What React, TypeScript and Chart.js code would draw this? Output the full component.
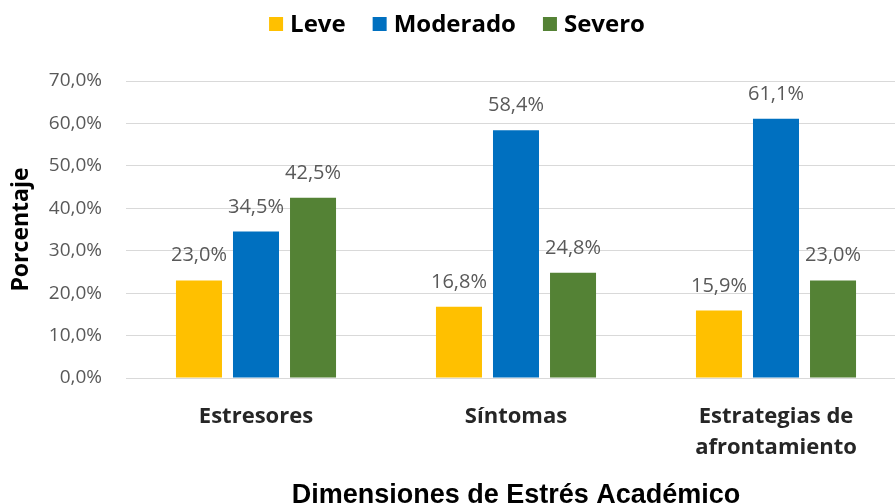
import React, { useEffect, useRef } from "react";
import { Chart, registerables } from "chart.js";

Chart.register(...registerables);

const categories: (string | string[])[] = ["Estresores", "Síntomas", ["Estrategias de", "afrontamiento"]];
const seriesNames = ["Leve", "Moderado", "Severo"];
const seriesColors = ["#FFC000", "#0070C0", "#548235"];
const leve = [23.0, 16.8, 15.9];
const moderado = [34.5, 58.4, 61.1];
const severo = [42.5, 24.8, 23.0];
const yTicks = [0, 10, 20, 30, 40, 50, 60, 70];

const fmt = (v: number) => v.toFixed(1).replace(".", ",") + "%";

const dataLabels = {
  id: "dataLabels",
  afterDatasetsDraw(chart: any) {
    const ctx = chart.ctx;
    ctx.save();
    ctx.font = "20px 'Open Sans'";
    ctx.fillStyle = "#595959";
    ctx.textAlign = "center";
    ctx.textBaseline = "alphabetic";
    chart.data.datasets.forEach((ds: any, i: number) => {
      const meta = chart.getDatasetMeta(i);
      meta.data.forEach((el: any, j: number) => {
        ctx.fillText(fmt(ds.data[j]), el.x, el.y - 19);
      });
    });
    ctx.restore();
  },
};

const topLegend = {
  id: "topLegend",
  afterDraw(chart: any) {
    const ctx = chart.ctx;
    ctx.save();
    ctx.font = "bold 24px 'Open Sans'";
    ctx.textBaseline = "alphabetic";
    ctx.textAlign = "left";
    const box = 14;
    const gapBoxText = 7;
    const gapItems = 27;
    const items = chart.data.datasets.map((ds: any) => ({
      label: ds.label,
      color: ds.backgroundColor,
      w: ctx.measureText(ds.label).width,
    }));
    const total = items.reduce((s: number, it: any) => s + box + gapBoxText + it.w, 0) + gapItems * (items.length - 1);
    let x = 457 - total / 2;
    const baseline = 32;
    items.forEach((it: any) => {
      ctx.fillStyle = it.color;
      ctx.fillRect(x, 17, box, box);
      x += box + gapBoxText;
      ctx.fillStyle = "#000000";
      ctx.fillText(it.label, x, baseline);
      x += it.w + gapItems;
    });
    ctx.restore();
  },
};

export default function App() {
  const ref = useRef<HTMLCanvasElement>(null);
  useEffect(() => {
    document.documentElement.style.overflow = "hidden";
    document.body.style.overflow = "hidden";
    const chart = new Chart(ref.current!, {
      type: "bar",
      data: {
        labels: categories,
        datasets: [
          { label: seriesNames[0], data: leve, backgroundColor: seriesColors[0] },
          { label: seriesNames[1], data: moderado, backgroundColor: seriesColors[1] },
          { label: seriesNames[2], data: severo, backgroundColor: seriesColors[2] },
        ],
      },
      options: {
        responsive: false,
        animation: false,
        devicePixelRatio: 1,
        layout: { padding: { left: 0, right: 6, top: 81, bottom: 0 } },
        datasets: { bar: { categoryPercentage: 0.658, barPercentage: 0.807 } },
        plugins: {
          tooltip: { enabled: false },
          legend: { display: false },
        },
        scales: {
          x: {
            grid: { display: false, drawTicks: false },
            border: { color: "#D9D9D9", width: 1 },
            afterFit: (axis: any) => {
              axis.height = 134;
            },
            ticks: {
              color: "#262626",
              padding: 23.5,
              font: { family: "'Open Sans'", size: 22, weight: "bold", lineHeight: 1.41 },
              maxRotation: 0,
              autoSkip: false,
            },
            title: {
              display: true,
              text: "Dimensiones de Estrés Académico",
              color: "#000000",
              font: { family: "'Liberation Sans'", size: 27, weight: "bold" },
              padding: { top: 0, bottom: 0 },
            },
          },
          y: {
            min: 0,
            max: 70,
            afterBuildTicks: (axis: any) => {
              axis.ticks = yTicks.map((v) => ({ value: v }));
            },
            afterFit: (axis: any) => {
              axis.width = 126;
            },
            grid: { color: "#D9D9D9", lineWidth: 1, drawTicks: false },
            border: { display: false },
            ticks: {
              color: "#595959",
              padding: 24,
              font: { family: "'Open Sans'", size: 19 },
              callback: (v: any) => fmt(Number(v)),
            },
            title: {
              display: true,
              text: "Porcentaje",
              color: "#000000",
              font: { family: "'Open Sans'", size: 23, weight: "bold" },
              padding: { top: 8, bottom: 0 },
            },
          },
        },
      },
      plugins: [dataLabels, topLegend],
    });
    return () => chart.destroy();
  }, []);
  return (
    <div style={{ position: "fixed", left: 0, top: 0, width: 895, height: 504, overflow: "hidden", background: "#fff" }}>
      <canvas ref={ref} width={912} height={512} style={{ display: "block" }} />
    </div>
  );
}
